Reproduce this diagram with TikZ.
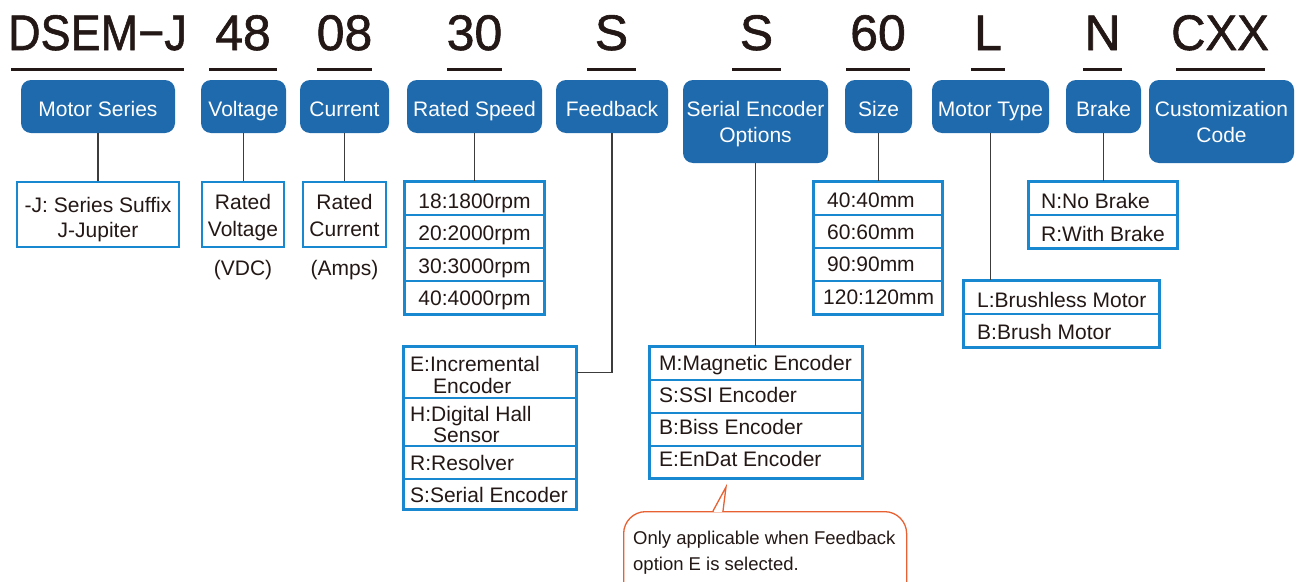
\documentclass[tikz,border=0pt]{standalone}
\usepackage{fontspec}
\usepackage{graphicx}
\setmainfont{Liberation Sans}
\newfontfamily\hdrfont[FakeBold=1.2]{Liberation Sans}
\usetikzlibrary{calc}
\definecolor{ink}{HTML}{231815}
\definecolor{hdrblue}{HTML}{1E6AAD}
\definecolor{optblue}{HTML}{1888D0}
\definecolor{linegray}{HTML}{3C3C3C}
\definecolor{calloutc}{HTML}{E86132}
\tikzset{
  code/.style={font=\hdrfont\fontsize{50}{50}\selectfont, text=ink, anchor=base, inner sep=0pt},
  uline/.style={draw=ink, line width=3pt},
  cat/.style={fill=hdrblue, rounded corners=10pt, inner sep=0pt, draw=none},
  cattxt/.style={font=\fontsize{21}{21}\selectfont, text=white, anchor=base, inner sep=0pt},
  optbox/.style={draw=optblue, line width=2.2pt, inner sep=0pt},
  optrow/.style={draw=optblue, line width=1.4pt, inner sep=0pt},
  optframe/.style={draw=optblue, line width=2.2pt},
  opttxt/.style={font=\fontsize{21}{21}\selectfont, text=ink, anchor=base west, inner sep=0pt},
  opttxtc/.style={font=\fontsize{21}{21}\selectfont, text=ink, anchor=base, inner sep=0pt},
  conn/.style={draw=linegray, line width=1.8pt},
  notebox/.style={draw=calloutc, line width=1.3pt, rounded corners=22pt, inner sep=0pt, fill=white},
  notetxt/.style={font=\fontsize{18.5}{18.5}\selectfont, text=ink, anchor=base west, inner sep=0pt},
}
\begin{document}
\begin{tikzpicture}[x=1pt,y=-1pt]
\useasboundingbox (0,0) rectangle (1301,581);
\clip (0,0) rectangle (1301,581);
\fill[white] (0,0) rectangle (1301,581);

% ---------- header codes ----------
\node[code] (c1) at (97.5,50) {\scalebox{0.9}[1]{DSEM−J}};
\node[code] (c2) at (243,50) {48};
\node[code] (c3) at (344.5,50) {08};
\node[code] (c4) at (474.5,50) {30};
\node[code] (c5) at (611.5,50) {S};
\node[code] (c6) at (756.5,50) {S};
\node[code] (c7) at (878,50) {60};
\node[code] (c8) at (988,50) {L};
\node[code] (c9) at (1102.5,50) {N};
\node[code] (c10) at (1220,50) {\scalebox{0.95}[1]{CXX}};
\draw[uline] (11,69) -- (184,69);
\draw[uline] (209,69) -- (277,69);
\draw[uline] (317,69) -- (372,69);
\draw[uline] (447,69) -- (502,69);
\draw[uline] (587,69) -- (636,69);
\draw[uline] (732,69) -- (781,69);
\draw[uline] (846,69) -- (910,69);
\draw[uline] (971,69) -- (1005,69);
\draw[uline] (1083,69) -- (1122,69);
\draw[uline] (1176,69) -- (1265,69);

% ---------- category boxes ----------
\node[cat, minimum width=154pt, minimum height=53pt] (ms) at (98,106.5) {};
\node[cat, minimum width=85pt, minimum height=53pt] (volt) at (243.5,106.5) {};
\node[cat, minimum width=89pt, minimum height=53pt] (cur) at (344.5,106.5) {};
\node[cat, minimum width=135pt, minimum height=53pt] (spd) at (474.5,106.5) {};
\node[cat, minimum width=112pt, minimum height=53pt] (fb) at (612,106.5) {};
\node[cat, minimum width=145pt, minimum height=83pt] (ser) at (755.5,121.5) {};
\node[cat, minimum width=67pt, minimum height=53pt] (size) at (878.5,106.5) {};
\node[cat, minimum width=117pt, minimum height=53pt] (mt) at (990.5,106.5) {};
\node[cat, minimum width=75pt, minimum height=53pt] (brk) at (1103.5,106.5) {};
\node[cat, minimum width=145pt, minimum height=83pt] (cust) at (1221.5,121.5) {};

\node[cattxt] (msT) at (98,116) {Motor Series};
\node[cattxt] (voltT) at (243.5,116) {Voltage};
\node[cattxt] (curT) at (344.5,116) {Current};
\node[cattxt] (spdT) at (474.5,116) {Rated Speed};
\node[cattxt] (fbT) at (612,116) {Feedback};
\node[cattxt] (serT1) at (755.5,116) {Serial Encoder};
\node[cattxt] (serT2) at (755.5,142) {Options};
\node[cattxt] (sizeT) at (878.5,116) {Size};
\node[cattxt] (mtT) at (990.5,116) {Motor Type};
\node[cattxt] (brkT) at (1103.5,116) {Brake};
\node[cattxt] (custT1) at (1221.5,116) {Customization};
\node[cattxt] (custT2) at (1221.5,142) {Code};

% ---------- option boxes ----------
\node[optbox, minimum width=162pt, minimum height=65pt] (msO) at (98,214.5) {};
\node[opttxtc] (msO1) at (98,212) {-J: Series Suffix};
\node[opttxtc] (msO2) at (98,237.5) {J-Jupiter};

\node[optbox, minimum width=82pt, minimum height=65pt] (voltO) at (243,214.5) {};
\node[opttxtc] (voltO1) at (243,209) {Rated};
\node[opttxtc] (voltO2) at (243,236) {Voltage};
\node[opttxtc] (voltU) at (243,275) {(VDC)};

\node[optbox, minimum width=83pt, minimum height=65pt] (curO) at (344.5,214.5) {};
\node[opttxtc] (curO1) at (344.5,209) {Rated};
\node[opttxtc] (curO2) at (344.5,236) {Current};
\node[opttxtc] (curU) at (344.5,275) {(Amps)};

% rated speed
\node[optrow, minimum width=139pt, minimum height=33pt] (sp1) at (474.5,198.5) {};
\node[optrow, minimum width=139pt, minimum height=33pt] (sp2) at (474.5,231.5) {};
\node[optrow, minimum width=139pt, minimum height=33pt] (sp3) at (474.5,264.5) {};
\node[optrow, minimum width=139pt, minimum height=33pt] (sp4) at (474.5,297.5) {};
\draw[optframe] (sp1.north west) rectangle (sp4.south east);
\node[opttxtc] (sp1T) at (474.5,208) {18:1800rpm};
\node[opttxtc] (sp2T) at (474.5,240.5) {20:2000rpm};
\node[opttxtc] (sp3T) at (474.5,273) {30:3000rpm};
\node[opttxtc] (sp4T) at (474.5,305.5) {40:4000rpm};

% size
\node[optrow, minimum width=128pt, minimum height=33pt] (sz1) at (878,198.5) {};
\node[optrow, minimum width=128pt, minimum height=33pt] (sz2) at (878,231.5) {};
\node[optrow, minimum width=128pt, minimum height=33pt] (sz3) at (878,264.5) {};
\node[optrow, minimum width=128pt, minimum height=33pt] (sz4) at (878,297.5) {};
\draw[optframe] (sz1.north west) rectangle (sz4.south east);
\node[opttxt] (sz1T) at (827,207) {40:40mm};
\node[opttxt] (sz2T) at (827,239) {60:60mm};
\node[opttxt] (sz3T) at (827,271.5) {90:90mm};
\node[opttxt] (sz4T) at (823,304) {120:120mm};

% brake
\node[optrow, minimum width=148pt, minimum height=33pt] (bk1) at (1103,198.5) {};
\node[optrow, minimum width=148pt, minimum height=33pt] (bk2) at (1103,231.5) {};
\draw[optframe] (bk1.north west) rectangle (bk2.south east);
\node[opttxt] (bk1T) at (1041,208.5) {N:No Brake};
\node[opttxt] (bk2T) at (1041,241) {R:With Brake};

% motor type
\node[optrow, minimum width=195pt, minimum height=33pt] (mt1) at (1061.5,297.5) {};
\node[optrow, minimum width=195pt, minimum height=33pt] (mt2) at (1061.5,330.5) {};
\draw[optframe] (mt1.north west) rectangle (mt2.south east);
\node[opttxt] (mt1T) at (977,307) {L:Brushless Motor};
\node[opttxt] (mt2T) at (977,339) {B:Brush Motor};

% feedback
\node[optrow, minimum width=172pt, minimum height=51pt] (fb1) at (490,372.5) {};
\node[optrow, minimum width=172pt, minimum height=48pt] (fb2) at (490,422) {};
\node[optrow, minimum width=172pt, minimum height=33pt] (fb3) at (490,462.5) {};
\node[optrow, minimum width=172pt, minimum height=30pt] (fb4) at (490,494) {};
\draw[optframe] (fb1.north west) rectangle (fb4.south east);
\node[opttxt] (fb1T) at (410,371) {E:Incremental};
\node[opttxt] (fb1U) at (433,393) {Encoder};
\node[opttxt] (fb2T) at (410,421) {H:Digital Hall};
\node[opttxt] (fb2U) at (433,442) {Sensor};
\node[opttxt] (fb3T) at (410,470) {R:Resolver};
\node[opttxt] (fb4T) at (410,502) {S:Serial Encoder};

% serial encoder options
\node[optrow, minimum width=212pt, minimum height=33pt] (se1) at (756,363.5) {};
\node[optrow, minimum width=212pt, minimum height=33pt] (se2) at (756,396.5) {};
\node[optrow, minimum width=212pt, minimum height=33pt] (se3) at (756,429.5) {};
\node[optrow, minimum width=212pt, minimum height=32pt] (se4) at (756,462) {};
\draw[optframe] (se1.north west) rectangle (se4.south east);
\node[opttxt] (se1T) at (659,370) {M:Magnetic Encoder};
\node[opttxt] (se2T) at (659,402) {S:SSI Encoder};
\node[opttxt] (se3T) at (659,434) {B:Biss Encoder};
\node[opttxt] (se4T) at (659,466) {E:EnDat Encoder};

% ---------- connectors ----------
\draw[conn] (ms.south) -- (ms.south |- msO.north);
\draw[conn] (volt.south) -- (volt.south |- voltO.north);
\draw[conn] (cur.south) -- (cur.south |- curO.north);
\draw[conn] (spd.south) -- (spd.south |- sp1.north);
\draw[conn] (fb.south) |- (fb1.east);
\draw[conn] (ser.south) -- (ser.south |- se1.north);
\draw[conn] (size.south) -- (size.south |- sz1.north);
\draw[conn] (mt.south) -- (mt.south |- mt1.north);
\draw[conn] (brk.south) -- (brk.south |- bk1.north);

% ---------- callout ----------
\node[notebox, minimum width=283pt, minimum height=110pt, anchor=north west] (note) at (623,511) {};
\coordinate (tip) at (726,487);
\coordinate (pl) at (713,511);
\coordinate (pr) at (723,511);
\fill[white] (pl) -- (tip) -- (pr) -- cycle;
\fill[white] (713.8,509.6) rectangle (722.2,512.2);
\draw[draw=calloutc, line width=1.3pt] (pl) -- (tip) -- (pr);
\node[notetxt] (n1) at (633,544) {Only applicable when Feedback};
\node[notetxt] (n2) at (633,570) {option E is selected.};
\end{tikzpicture}
\end{document}
